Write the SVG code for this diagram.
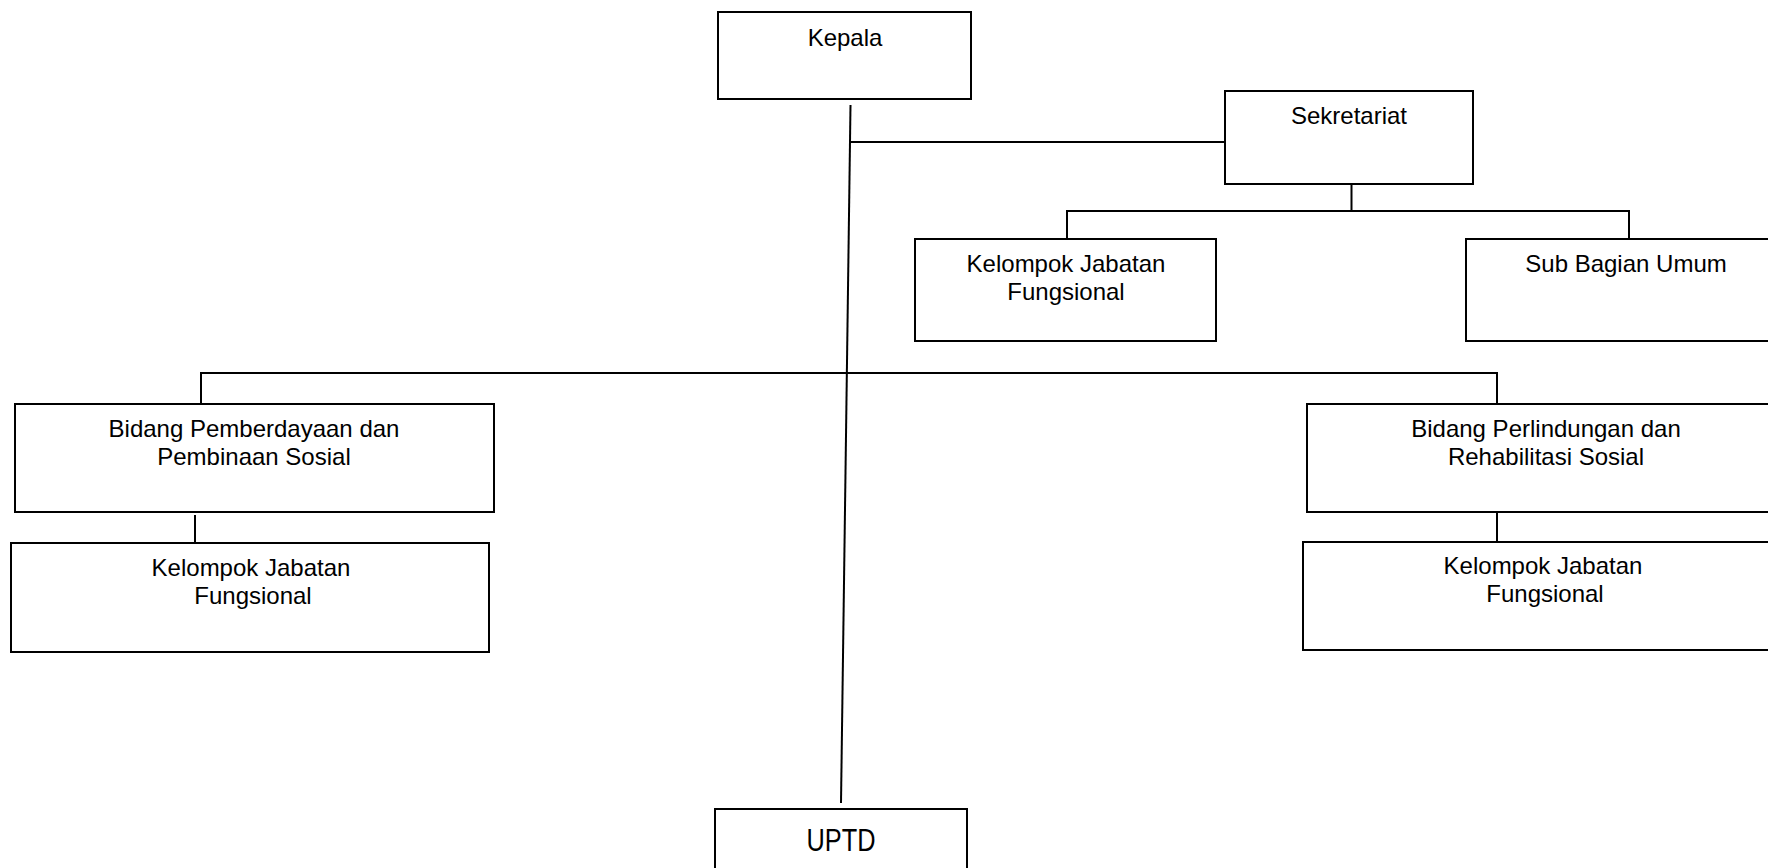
<svg xmlns="http://www.w3.org/2000/svg" width="1768" height="868" viewBox="0 0 1768 868">
<style>
.box{fill:#fff;stroke:#000;stroke-width:2}
.t{font-family:"Liberation Sans",Arial,sans-serif;font-size:24px;fill:#000;text-anchor:middle}
.c{fill:none;stroke:#000;stroke-width:2}
</style>
<rect width="1768" height="868" fill="#fff"/>
<g id="connectors">
<line class="c" x1="850.5" y1="105" x2="841" y2="803"/>
<line class="c" x1="850" y1="142" x2="1225" y2="142"/>
<polyline class="c" points="1351.5,184 1351.5,211"/>
<polyline class="c" points="1067,239 1067,211 1629,211 1629,239"/>
<polyline class="c" points="201,404 201,373 1497,373 1497,404"/>
<line class="c" x1="195" y1="515" x2="195" y2="543"/>
<line class="c" x1="1497" y1="511" x2="1497" y2="542"/>
</g>
<g id="kepala">
<rect class="box" x="718" y="12" width="253" height="87"/>
<text class="t" x="845" y="46">Kepala</text>
</g>
<g id="sekretariat">
<rect class="box" x="1225" y="91" width="248" height="93"/>
<text class="t" x="1349" y="124">Sekretariat</text>
</g>
<g id="kjf-sekretariat">
<rect class="box" x="915" y="239" width="301" height="102"/>
<text class="t" x="1066" y="272">Kelompok Jabatan</text>
<text class="t" x="1066" y="300">Fungsional</text>
</g>
<g id="subbagian-umum">
<rect class="box" x="1466" y="239" width="320" height="102"/>
<text class="t" x="1626" y="272">Sub Bagian Umum</text>
</g>
<g id="bidang-pemberdayaan">
<rect class="box" x="15" y="404" width="479" height="108"/>
<text class="t" x="254" y="437">Bidang Pemberdayaan dan</text>
<text class="t" x="254" y="465">Pembinaan Sosial</text>
</g>
<g id="kjf-pemberdayaan">
<rect class="box" x="11" y="543" width="478" height="109"/>
<text class="t" x="251" y="576">Kelompok Jabatan</text>
<text class="t" x="253" y="604">Fungsional</text>
</g>
<g id="bidang-perlindungan">
<rect class="box" x="1307" y="404" width="480" height="108"/>
<text class="t" x="1546" y="437">Bidang Perlindungan dan</text>
<text class="t" x="1546" y="465">Rehabilitasi Sosial</text>
</g>
<g id="kjf-perlindungan">
<rect class="box" x="1303" y="542" width="480" height="108"/>
<text class="t" x="1543" y="574">Kelompok Jabatan</text>
<text class="t" x="1545" y="602">Fungsional</text>
</g>
<g id="uptd">
<rect class="box" x="715" y="809" width="252" height="80"/>
<text x="841" y="851" font-family="'Liberation Sans',Arial,sans-serif" font-size="31" text-anchor="middle" textLength="69" lengthAdjust="spacingAndGlyphs" fill="#000">UPTD</text>
</g>
</svg>
